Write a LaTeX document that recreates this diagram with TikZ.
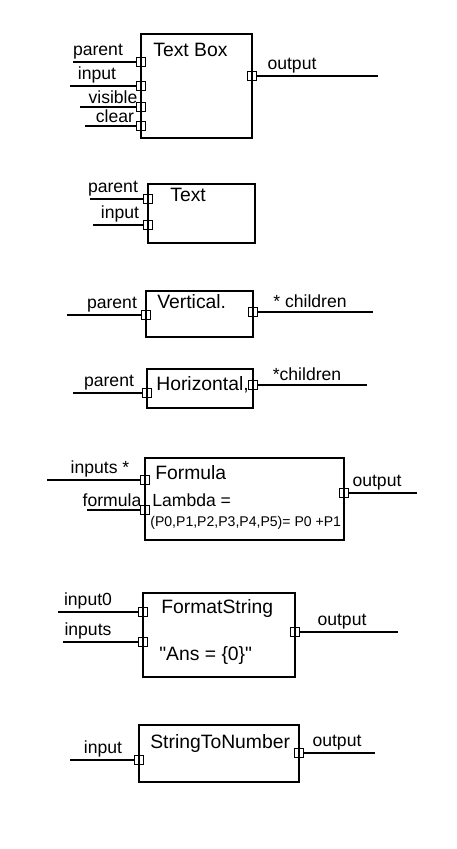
\documentclass[tikz,border=0pt]{standalone}
\usepackage{fontspec}
\setmainfont{Liberation Sans}
\newfontfamily\rawfont{Liberation Sans}[Ligatures = TeXOff]
\usetikzlibrary{fit}

\tikzset{
  block/.style = {draw, line width = .9pt, inner sep = 0pt},
  port/.style  = {draw, line width = .8pt, minimum size = 1.8mm, inner sep = 0pt},
  wire/.style  = {line width = .9pt},
  lbl/.style   = {anchor = south, inner sep = 1pt},
  title/.style = {anchor = west, inner sep = 0pt, font = \fontsize{11}{13}\selectfont}
}

\begin{document}
\begin{tikzpicture}[x = .2mm, y = -.2mm]
\useasboundingbox (0, 0) rectangle (456, 849);

% Text Box
\node [block, fit = {(141, 34) (252, 138)}] (textbox) {};
\node [title] (textbox-t) at (153, 50) {Text Box};
\foreach \p/\y/\x/\lx in {parent/62/73/98, input/86/70/97, visible/107/80/113, clear/126/85/115} {
  \node [port] (tb-\p) at (141, \y) {};
  \coordinate (tb-\p-end) at (\x, \y);
  \draw [wire] (tb-\p-end) -- (tb-\p);
  \node [lbl] (tb-\p-l) at (\lx, \y - 1) {\p};
}
\node [port] (tb-out) at (252, 76) {};
\coordinate (tb-out-end) at (378, 76);
\draw [wire] (tb-out) -- (tb-out-end);
\node [lbl] (tb-out-l) at (292, 75) {output};

% Text
\node [block, fit = {(148, 184) (255, 243)}] (textnd) {};
\node [title] (textnd-t) at (170, 195) {Text};
\foreach \p/\y/\x/\lx in {parent/199/90/113, input/225/93/120} {
  \node [port] (tx-\p) at (148, \y) {};
  \coordinate (tx-\p-end) at (\x, \y);
  \draw [wire] (tx-\p-end) -- (tx-\p);
  \node [lbl] (tx-\p-l) at (\lx, \y - 1) {\p};
}

% Vertical
\node [block, fit = {(146, 291) (253, 337)}] (vertical) {};
\node [title] (vertical-t) at (157, 302) {Vertical.};
\node [port] (vt-parent) at (146, 315) {};
\coordinate (vt-parent-end) at (67, 315);
\draw [wire] (vt-parent-end) -- (vt-parent);
\node [lbl] (vt-parent-l) at (112, 314) {parent};
\node [port] (vt-child) at (253, 312) {};
\coordinate (vt-child-end) at (373, 312);
\draw [wire] (vt-child) -- (vt-child-end);
\node [lbl] (vt-child-l) at (310, 310) {* children};

% Horizontal
\node [block, fit = {(147, 369) (253, 408)}] (horizontal) {};
\node [title] (horizontal-t) at (156, 385) {Horizontal,};
\node [port] (hz-parent) at (147, 393) {};
\coordinate (hz-parent-end) at (73, 393);
\draw [wire] (hz-parent-end) -- (hz-parent);
\node [lbl] (hz-parent-l) at (109, 392) {parent};
\node [port] (hz-child) at (253, 385) {};
\coordinate (hz-child-end) at (367, 385);
\draw [wire] (hz-child) -- (hz-child-end);
\node [lbl] (hz-child-l) at (307, 383) {*children};

% Formula
\node [block, fit = {(145, 458) (344, 540)}] (formula) {};
\node [title] (formula-t) at (155, 473) {Formula};
\node [anchor = west, inner sep = 0pt] (formula-l1) at (152, 500) {Lambda =};
\node [anchor = west, inner sep = 0pt, font = \footnotesize] (formula-l2) at (150, 523) {(P0,P1,P2,P3,P4,P5)= P0 +P1};
\foreach \p/\y/\x/\lx/\txt in {in/480/47/100/inputs *, fn/510/87/112/formula} {
  \node [port] (fm-\p) at (145, \y) {};
  \coordinate (fm-\p-end) at (\x, \y);
  \draw [wire] (fm-\p-end) -- (fm-\p);
  \node [lbl] (fm-\p-l) at (\lx, \y - 1) {\txt};
}
\node [port] (fm-out) at (344, 493) {};
\coordinate (fm-out-end) at (417, 493);
\draw [wire] (fm-out) -- (fm-out-end);
\node [lbl] (fm-out-l) at (377, 492) {output};

% FormatString
\node [block, fit = {(143, 593) (295, 677)}] (fmtstring) {};
\node [title] (fmtstring-t) at (161, 608) {FormatString};
\node [title, font = \rawfont\fontsize{11}{13}\selectfont] (fmtstring-s) at (159, 655) {"Ans = \{0\}"};
\foreach \p/\y/\x/\lx in {input0/612/58/88, inputs/642/63/88} {
  \node [port] (fs-\p) at (143, \y) {};
  \coordinate (fs-\p-end) at (\x, \y);
  \draw [wire] (fs-\p-end) -- (fs-\p);
  \node [lbl] (fs-\p-l) at (\lx, \y - 1) {\p};
}
\node [port] (fs-out) at (295, 632) {};
\coordinate (fs-out-end) at (398, 632);
\draw [wire] (fs-out) -- (fs-out-end);
\node [lbl] (fs-out-l) at (342, 631) {output};

% StringToNumber
\node [block, fit = {(139, 725) (299, 782)}] (strtonum) {};
\node [title] (strtonum-t) at (150, 743) {StringToNumber};
\node [port] (sn-in) at (139, 760) {};
\coordinate (sn-in-end) at (70, 760);
\draw [wire] (sn-in-end) -- (sn-in);
\node [lbl] (sn-in-l) at (103, 759) {input};
\node [port] (sn-out) at (299, 753) {};
\coordinate (sn-out-end) at (375, 753);
\draw [wire] (sn-out) -- (sn-out-end);
\node [lbl] (sn-out-l) at (337, 752) {output};
\end{tikzpicture}
\end{document}
